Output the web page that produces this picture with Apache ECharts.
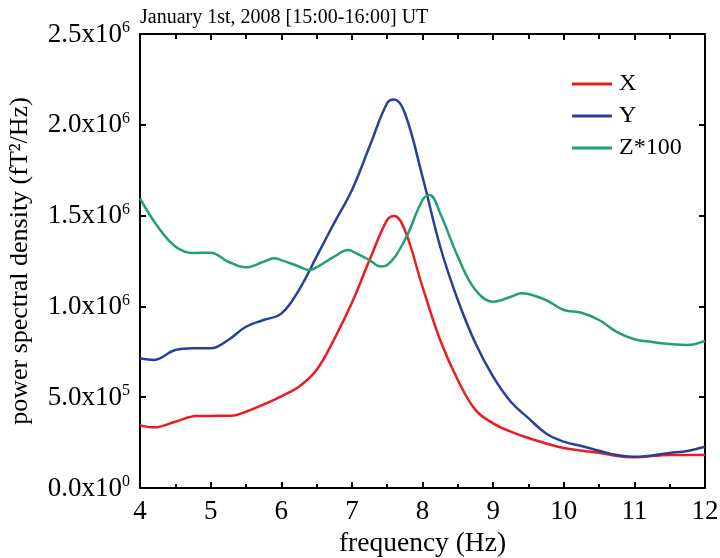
<!DOCTYPE html>
<html>
<head>
<meta charset="utf-8">
<script src="https://cdn.jsdelivr.net/npm/echarts@6/dist/echarts.min.js"></script>
<style>html,body{margin:0;padding:0;background:#fff}#c{width:720px;height:558px}</style>
</head>
<body>
<div id="c"></div>
<script>
// Frequency (Hz) and power spectral density (fT^2/Hz)
const freqX = [4, 4.2, 4.5, 4.8, 5.0, 5.3, 5.5, 5.75, 6.0, 6.25, 6.5, 6.75, 7.0, 7.25, 7.5, 7.6, 7.75, 8.0, 8.25, 8.5, 8.75, 9.0, 9.25, 9.5, 10.0, 10.5, 10.75, 11.0, 11.5, 12.0];
const valX  = [3.45e5, 3.34e5, 3.65e5, 3.96e5, 3.97e5, 3.98e5, 4.2e5, 4.6e5, 5.05e5, 5.58e5, 6.5e5, 8.2e5, 1.02e6, 1.255e6, 1.476e6, 1.498e6, 1.42e6, 1.108e6, 8.15e5, 5.95e5, 4.3e5, 3.56e5, 3.1e5, 2.75e5, 2.2e5, 1.94e5, 1.76e5, 1.69e5, 1.82e5, 1.82e5];

const freqY = [4, 4.2, 4.5, 4.75, 5.0, 5.25, 5.5, 5.75, 6.0, 6.25, 6.5, 6.75, 7.0, 7.25, 7.5, 7.6, 7.75, 8.0, 8.25, 8.5, 8.75, 9.0, 9.25, 9.5, 9.75, 10.0, 10.25, 10.5, 10.75, 11.0, 11.5, 11.75, 12.0];
const valY  = [7.14e5, 7.05e5, 7.6e5, 7.69e5, 7.69e5, 8.15e5, 8.88e5, 9.25e5, 9.6e5, 1.09e6, 1.274e6, 1.46e6, 1.64e6, 1.88e6, 2.12e6, 2.14e6, 2.065e6, 1.714e6, 1.33e6, 1.035e6, 7.97e5, 6.13e5, 4.75e5, 3.85e5, 3.0e5, 2.55e5, 2.31e5, 2.05e5, 1.82e5, 1.72e5, 1.93e5, 2.04e5, 2.27e5];

const freqZ = [4, 4.25, 4.5, 4.75, 5.0, 5.25, 5.5, 5.75, 5.9, 6.0, 6.25, 6.4, 6.5, 6.75, 6.95, 7.0, 7.25, 7.4, 7.5, 7.75, 8.0, 8.1, 8.25, 8.5, 8.75, 9.0, 9.25, 9.4, 9.5, 9.75, 10.0, 10.25, 10.5, 10.75, 11.0, 11.25, 11.5, 11.75, 12.0];
const valZ  = [1.595e6, 1.44e6, 1.33e6, 1.294e6, 1.296e6, 1.246e6, 1.215e6, 1.246e6, 1.265e6, 1.255e6, 1.22e6, 1.2e6, 1.215e6, 1.274e6, 1.31e6, 1.305e6, 1.255e6, 1.22e6, 1.228e6, 1.366e6, 1.586e6, 1.613e6, 1.513e6, 1.274e6, 1.09e6, 1.026e6, 1.053e6, 1.072e6, 1.068e6, 1.035e6, 0.98e6, 0.965e6, 0.925e6, 0.86e6, 0.819e6, 0.804e6, 0.793e6, 0.787e6, 0.81e6];

const seriesNames = ['X', 'Y', 'Z*100'];
const yTicks = [[0,'0.0','0'],[5e5,'5.0','5'],[1e6,'1.0','6'],[1.5e6,'1.5','6'],[2e6,'2.0','6'],[2.5e6,'2.5','6']];
const titleText = 'January 1st, 2008 [15:00-16:00] UT';

const FONT = 'Liberation Serif';
const zip = (a, b) => a.map((v, i) => [v, b[i]]);

const chart = echarts.init(document.getElementById('c'), null, {renderer: 'canvas'});
const axisCommon = {
  axisLine: {show: true, onZero: false, lineStyle: {color: '#000', width: 2}},
  axisTick: {show: true, inside: true, length: 6, lineStyle: {color: '#000', width: 2}},
  splitLine: {show: false}
};
chart.setOption({
  animation: false,
  backgroundColor: '#fff',
  title: {text: titleText, left: 135, top: 3, textStyle: {fontFamily: FONT, fontSize: 20, fontWeight: 'normal', color: '#000'}},
  grid: {left: 140, right: 15, top: 34, bottom: 70, containLabel: false, outerBoundsMode: 'none'},
  legend: {
    orient: 'vertical', left: 567, top: 67, itemWidth: 40, itemHeight: 3, itemGap: 8, icon: 'rect',
    data: seriesNames,
    textStyle: {fontFamily: FONT, fontSize: 24, color: '#000', padding: [0,0,0,2]}
  },
  xAxis: [
    Object.assign({}, axisCommon, {
      type: 'value', min: 4, max: 12, interval: 1, position: 'bottom',
      minorTick: {show: true, splitNumber: 2, length: 4, lineStyle: {color: '#000', width: 2}},
      axisLabel: {fontFamily: FONT, fontSize: 27, color: '#000', margin: 10},
      name: 'frequency (Hz)', nameLocation: 'middle', nameGap: 36,
      nameTextStyle: {fontFamily: FONT, fontSize: 27.5, color: '#000'}
    }),
    Object.assign({}, axisCommon, {
      type: 'value', min: 4, max: 12, interval: 1, position: 'top',
      minorTick: {show: true, splitNumber: 2, length: 5, lineStyle: {color: '#000', width: 2}},
      axisLabel: {show: false}
    })
  ],
  yAxis: [
    Object.assign({}, axisCommon, {
      type: 'value', min: 0, max: 2.5e6, interval: 5e5, position: 'left',
      axisLabel: {
        margin: 10,
        formatter: (v) => { const t = yTicks.find(k => Math.abs(k[0]-v) < 1); return t ? '{b|' + t[1] + 'x10}{s|' + t[2] + '}' : ''; },
        rich: {
          b: {fontFamily: FONT, fontSize: 27, color: '#000', verticalAlign: 'bottom', lineHeight: 28},
          s: {fontFamily: FONT, fontSize: 16, color: '#000', verticalAlign: 'top', lineHeight: 28, padding: [0,0,12,0]}
        }
      },
      name: 'power spectral density (fT\u00B2/Hz)', nameLocation: 'middle', nameGap: 107,
      nameTextStyle: {fontFamily: FONT, fontSize: 26, color: '#000'}
    }),
    Object.assign({}, axisCommon, {
      type: 'value', min: 0, max: 2.5e6, interval: 5e5, position: 'right',
      axisLabel: {show: false}
    })
  ],
  series: [
    {name: 'X', type: 'line', data: zip(freqX, valX), smooth: 0.4, showSymbol: false, symbol: 'none', lineStyle: {color: '#ED1C24', width: 2.5}, itemStyle: {color: '#ED1C24'}},
    {name: 'Y', type: 'line', data: zip(freqY, valY), smooth: 0.4, showSymbol: false, symbol: 'none', lineStyle: {color: '#2B3F99', width: 2.5}, itemStyle: {color: '#2B3F99'}},
    {name: 'Z*100', type: 'line', data: zip(freqZ, valZ), smooth: 0.4, showSymbol: false, symbol: 'none', lineStyle: {color: '#22A06E', width: 2.5}, itemStyle: {color: '#22A06E'}}
  ]
});
</script>
</body>
</html>
